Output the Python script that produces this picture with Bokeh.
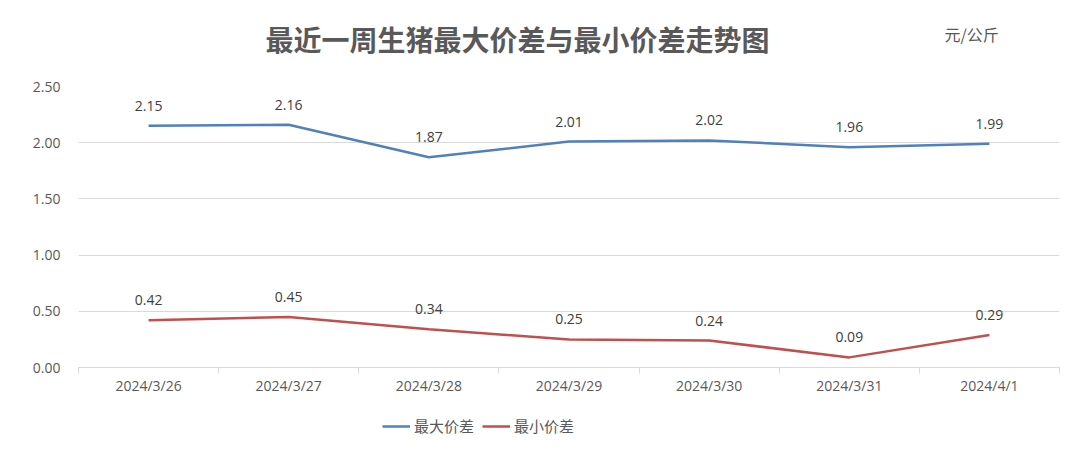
from bokeh.plotting import figure
from bokeh.layouts import column
from bokeh.models import (ColumnDataSource, LinearAxis, FixedTicker, Range1d,
                          Legend, LegendItem, NumeralTickFormatter)
from bokeh.core.properties import value
from bokeh.embed import file_html
from bokeh.resources import INLINE

# ---- data ----
dates = ["2024/3/26", "2024/3/27", "2024/3/28", "2024/3/29", "2024/3/30", "2024/3/31", "2024/4/1"]
max_diff = [2.15, 2.16, 1.87, 2.01, 2.02, 1.96, 1.99]
min_diff = [0.42, 0.45, 0.34, 0.25, 0.24, 0.09, 0.29]
y_ticks = [0.0, 0.5, 1.0, 1.5, 2.0, 2.5]
title_text = "最近一周生猪最大价差与最小价差走势图"
unit_text = "元/公斤"
legend_labels = ["最大价差", "最小价差"]

xs = [i + 0.5 for i in range(len(dates))]
src = ColumnDataSource(dict(
    x=xs, ymax=max_diff, ymin=min_diff,
    tmax=[f"{v:.2f}" for v in max_diff],
    tmin=[f"{v:.2f}" for v in min_diff],
))

BLUE = "#4f81bd"
RED = "#c0504d"
GRAY = "#595959"
GRID = "#d9d9d9"
FONT = "Open Sans"
CJK = "Noto Sans CJK SC"
LEFT, RIGHT = 78, 5
FW, FH = 981, 281


def bare(fig):
    fig.outline_line_color = None
    fig.border_fill_color = "white"
    fig.background_fill_color = "white"
    fig.xgrid.visible = False
    fig.ygrid.visible = False
    return fig


# ---------- header (title + unit) ----------
H1 = 60
top = bare(figure(frame_width=FW, frame_height=H1, output_backend="svg", toolbar_location=None,
                  x_range=Range1d(LEFT, LEFT + FW), y_range=Range1d(H1, 0),
                  x_axis_location=None, y_axis_location=None,
                  min_border_left=LEFT, min_border_right=RIGHT,
                  min_border_top=0, min_border_bottom=0))
top.text(x=[265], y=[38], text=[title_text], text_align="left", text_baseline="middle",
         text_font=value(CJK), text_font_size="28px", text_font_style="bold", text_color=GRAY)
top.text(x=[944], y=[33], text=[unit_text], text_align="left", text_baseline="middle",
         text_font=value(CJK), text_font_size="16px", text_color=GRAY)

# ---------- main chart ----------
p = figure(frame_width=FW, frame_height=FH, output_backend="svg", toolbar_location=None,
           x_range=Range1d(0, len(dates)), y_range=Range1d(0, 2.5),
           x_axis_location=None, y_axis_location=None,
           min_border_left=LEFT, min_border_right=RIGHT, min_border_top=86 - H1,
           min_border_bottom=30)
bare(p)

yax = LinearAxis(ticker=FixedTicker(ticks=y_ticks), formatter=NumeralTickFormatter(format="0.00"))
yax.axis_line_color = None
yax.major_tick_line_color = None
yax.minor_tick_line_color = None
yax.major_label_text_font = FONT
yax.major_label_text_font_size = "14px"
yax.major_label_text_color = GRAY
yax.major_label_standoff = 12
p.add_layout(yax, "left")

# x axis: boundary ticks between categories
xax1 = LinearAxis(ticker=FixedTicker(ticks=list(range(len(dates) + 1))))
xax1.axis_line_color = GRID
xax1.major_tick_line_color = GRID
xax1.major_tick_in = 0
xax1.major_tick_out = 6
xax1.minor_tick_line_color = None
xax1.major_label_text_font_size = "1px"
xax1.major_label_text_alpha = 0
xax1.major_label_standoff = 0
p.add_layout(xax1, "below")

# x axis: category labels at band centres
xax2 = LinearAxis(ticker=FixedTicker(ticks=xs),
                  major_label_overrides={x: d for x, d in zip(xs, dates)})
xax2.axis_line_color = None
xax2.major_tick_line_color = None
xax2.major_tick_out = 0
xax2.major_tick_in = 0
xax2.minor_tick_line_color = None
xax2.major_label_text_font = FONT
xax2.major_label_text_font_size = "14px"
xax2.major_label_text_color = GRAY
xax2.major_label_standoff = 2
p.add_layout(xax2, "below")

p.ygrid.visible = True
p.ygrid.ticker = FixedTicker(ticks=y_ticks)
p.ygrid.grid_line_color = GRID

p.line("x", "ymax", source=src, line_color=BLUE, line_width=2.5)
p.line("x", "ymin", source=src, line_color=RED, line_width=2.5)

for col, ycol in (("tmax", "ymax"), ("tmin", "ymin")):
    p.text("x", ycol, text=col, source=src, text_align="center", text_baseline="middle",
           y_offset=-20, text_font=value(FONT), text_font_size="14px", text_color="#404040")

# ---------- legend strip ----------
H3 = 44
bot = bare(figure(frame_width=FW, frame_height=H3, output_backend="svg", toolbar_location=None,
                  x_range=Range1d(0, 1), y_range=Range1d(0, 1),
                  x_axis_location=None, y_axis_location=None,
                  min_border_left=LEFT, min_border_right=RIGHT,
                  min_border_top=0, min_border_bottom=0))
# legend keys only (their points lie outside the visible range)
l1 = bot.line(x=[0, 1], y=[5, 5], line_color=BLUE, line_width=2.5)
l2 = bot.line(x=[0, 1], y=[5, 5], line_color=RED, line_width=2.5)
legend = Legend(items=[LegendItem(label=legend_labels[0], renderers=[l1]),
                       LegendItem(label=legend_labels[1], renderers=[l2])],
                orientation="horizontal", location=(382 - LEFT, 5))
legend.label_text_font = CJK
legend.label_text_font_size = "15px"
legend.label_text_color = GRAY
legend.border_line_color = None
legend.background_fill_alpha = 0
legend.glyph_width = 28
legend.label_standoff = 4
legend.spacing = 8
legend.margin = 0
legend.padding = 4
bot.add_layout(legend, "center")

layout = column(top, p, bot, spacing=0)
open("out.html", "w").write(file_html(layout, INLINE))
